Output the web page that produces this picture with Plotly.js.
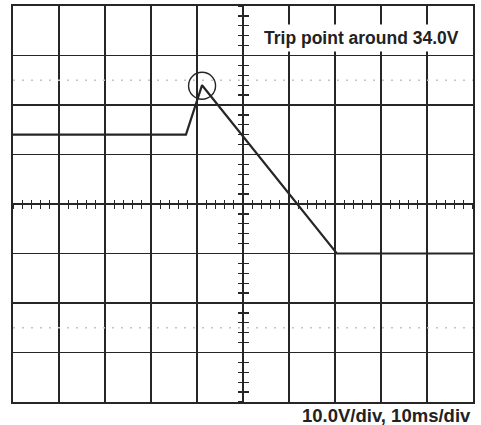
<!DOCTYPE html>
<html>
<head>
<meta charset="utf-8">
<script src="https://cdn.plot.ly/plotly-3.0.1.min.js"></script>
<style>html,body{margin:0;padding:0;background:#fff;}#chart{width:481px;height:425px;}</style>
</head>
<body>
<div id="chart"></div>
<script>
// Time in ms (10 ms/div), voltage in V (10 V/div)
const timeMs   = [0, 37.6, 41.1, 70.4, 100];
const voltageV = [24, 24, 34, 0, 0];
const tripTime = [41.1];
const tripVolt = [33.9];
const markerLevels = [35, -15];   // dotted reference lines
const xRange = [0, 100];
const yRange = [-30, 50];
const titleText = 'Trip point around 34.0V';
const scaleText = '10.0V/div, 10ms/div';

const ink = '#262626';
const traces = [];

markerLevels.forEach(v => {
  traces.push({x: xRange, y: [v, v], mode: 'lines', hoverinfo: 'skip', showlegend: false,
    line: {color: '#c4c4c4', width: 1.6, dash: '2px,7px'}});
});

traces.push({x: timeMs, y: voltageV, mode: 'lines', showlegend: false,
  line: {color: ink, width: 2.2}});

traces.push({x: tripTime, y: tripVolt, mode: 'markers', showlegend: false,
  marker: {symbol: 'circle-open', size: 27, color: ink, line: {width: 1.4, color: ink}}});

// invisible helpers to register centre tick axes
[['x2','y'],['x3','y'],['x','y2'],['x','y3']].forEach(([xa,ya]) => {
  traces.push({x: timeMs, y: voltageV, xaxis: xa, yaxis: ya, mode: 'lines', hoverinfo: 'skip',
    showlegend: false, line: {color: 'rgba(0,0,0,0)', width: 0}});
});

const base = {showticklabels: false, zeroline: false, fixedrange: true};
const xMain = Object.assign({}, base, {range: xRange, dtick: 10, tick0: 0, showgrid: true,
  gridcolor: ink, gridwidth: 1.6, showline: true, mirror: true, linecolor: ink, linewidth: 2, ticks: ''});
const yMain = Object.assign({}, base, {range: yRange, dtick: 10, tick0: 0, showgrid: true,
  gridcolor: ink, gridwidth: 1.6, showline: true, mirror: true, linecolor: ink, linewidth: 2, ticks: ''});

function tickAxis(overlay, ticks, range, len) {
  return Object.assign({}, base, {overlaying: overlay, anchor: 'free', position: 0.5, range: range,
    showgrid: false, showline: false, ticks: ticks, ticklen: len, tickwidth: 1.3, tickcolor: ink,
    dtick: 2, tick0: 0});
}

const layout = {
  width: 481, height: 425,
  margin: {l: 13, r: 8, t: 6, b: 23},
  paper_bgcolor: '#fff', plot_bgcolor: '#fff',
  xaxis: xMain, yaxis: yMain,
  xaxis2: tickAxis('x', 'outside', xRange, 4),
  xaxis3: tickAxis('x', 'inside', xRange, 4),
  yaxis2: tickAxis('y', 'outside', yRange, 5),
  yaxis3: tickAxis('y', 'inside', yRange, 5),
  annotations: [
    {text: '<b>' + titleText + '</b>', xref: 'paper', yref: 'paper', x: 0.758, y: 0.919,
     xanchor: 'center', yanchor: 'middle', showarrow: false, bgcolor: '#fff',
     borderpad: 3, font: {family: 'Liberation Sans, Arial, sans-serif', size: 17.5, color: '#222'}},
    {text: '<b>' + scaleText + '</b>', xref: 'paper', yref: 'paper', x: 1.0, y: -0.035,
     xanchor: 'right', yanchor: 'middle', showarrow: false,
     font: {family: 'Liberation Sans, Arial, sans-serif', size: 18.5, color: '#222'}}
  ]
};

Plotly.newPlot('chart', traces, layout, {displayModeBar: false, staticPlot: true});
</script>
</body>
</html>
